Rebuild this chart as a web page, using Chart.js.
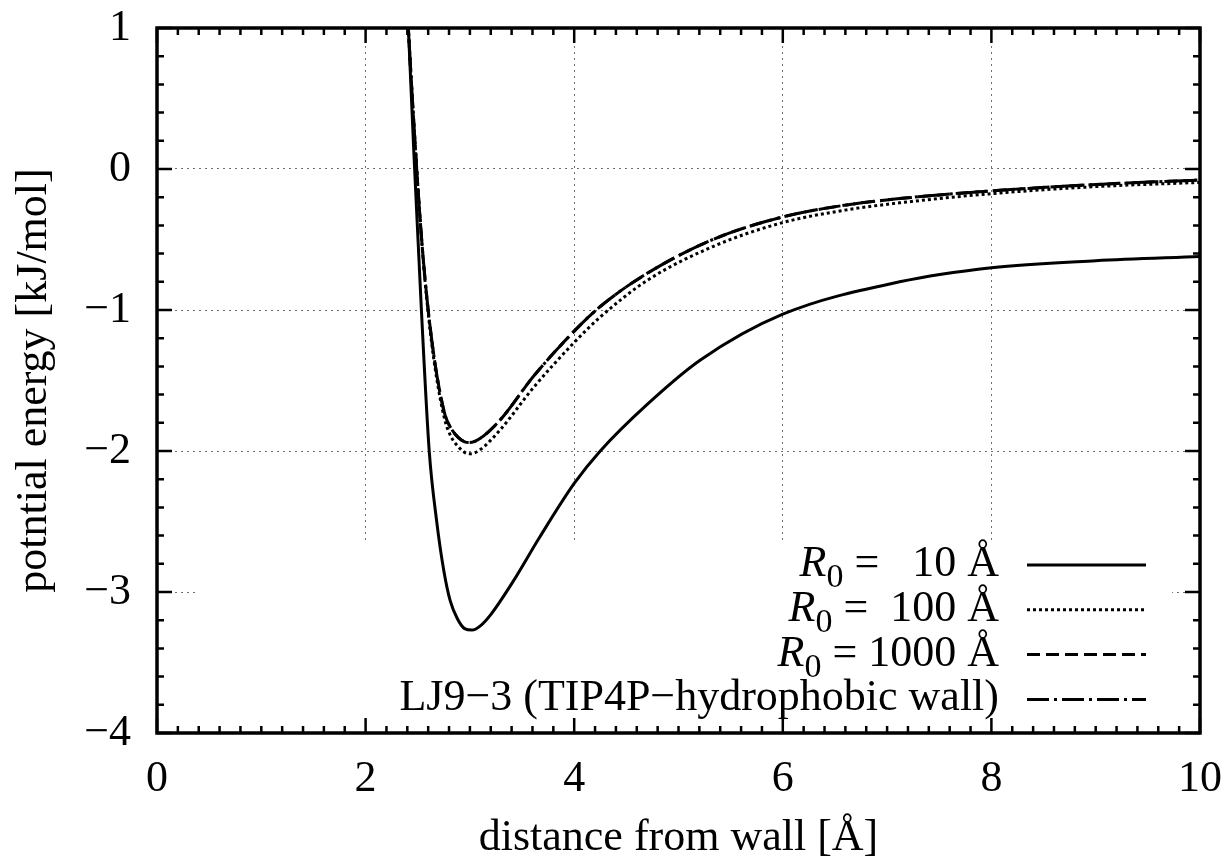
<!DOCTYPE html>
<html>
<head>
<meta charset="utf-8">
<script src="https://cdn.jsdelivr.net/npm/chart.js@4.4.0/dist/chart.umd.min.js"></script>
<style>
html,body{margin:0;padding:0;background:#fff;}
#wrap{width:1230px;height:865px;position:relative;}
</style>
</head>
<body>
<div id="wrap"><canvas id="potential"></canvas></div>
<script>
'use strict';

// values
var xTicks = [0, 2, 4, 6, 8, 10];
var yTicks = [1, 0, -1, -2, -3, -4];

var seriesNames = ['R0 =   10 Å', 'R0 =  100 Å', 'R0 = 1000 Å', 'LJ9\u22123 (TIP4P\u2212hydrophobic wall)'];

var xR10 = [2.38, 2.41, 2.47, 2.535, 2.61, 2.68, 2.75, 2.81, 2.88, 2.95, 3.02, 3.1, 3.2, 3.41, 3.67, 4.0, 4.25, 4.7, 5.21, 6.0, 7.12, 8.0, 9.0, 10.0];
var yR10 = [1.6, 1.0, 0, -1.0, -2.0, -2.49, -2.85, -3.06, -3.19, -3.26, -3.27, -3.24, -3.16, -2.93, -2.61, -2.23, -2.0, -1.67, -1.355, -1.03, -0.80, -0.70, -0.65, -0.62];

var xWall  = [2.37, 2.41, 2.49, 2.545, 2.60, 2.67, 2.76, 2.82, 2.89, 2.95, 3.0, 3.1, 3.29, 3.61, 4.0, 4.25, 4.7, 5.33, 6.0, 6.61, 7.12, 8.0, 9.0, 10.0];
var yR100  = [1.6, 1.0, 0, -0.58, -1.02, -1.43, -1.78, -1.90, -1.97, -2.01, -2.02, -1.99, -1.85, -1.55, -1.23, -1.05, -0.79, -0.55, -0.38, -0.29, -0.24, -0.175, -0.125, -0.095];
var yR1000 = [1.6, 1.0, 0, -0.57, -1.0, -1.40, -1.74, -1.84, -1.905, -1.935, -1.94, -1.91, -1.78, -1.47, -1.15, -0.975, -0.74, -0.50, -0.34, -0.255, -0.21, -0.155, -0.11, -0.078];
var yLJ93  = [1.6, 1.0, 0, -0.57, -1.0, -1.40, -1.74, -1.84, -1.905, -1.935, -1.94, -1.91, -1.78, -1.47, -1.15, -0.975, -0.74, -0.50, -0.34, -0.255, -0.21, -0.155, -0.11, -0.078];

var SERIF = "'Liberation Serif', 'Times New Roman', serif";

function pts(xs, ys){
    return xs.map(function(x, i){ return {x: x, y: ys[i]}; });
}

function curve(label, xs, ys, dash){
    return {
        label: label,
        data: pts(xs, ys),
        borderColor: '#000',
        borderWidth: 3,
        borderDash: dash,
        pointRadius: 0,
        fill: false,
        cubicInterpolationMode: 'monotone'
    };
}

// gnuplot style frame: key box, inward ticks, thick border, key
var gnuFrame = {
    id: 'gnuFrame',
    keyBox: function(a){
        return {left: a.left + 38, right: a.right - 28, top: a.bottom - 190, bottom: a.bottom - 13};
    },
    beforeDatasetsDraw: function(chart){
        var ctx = chart.ctx, k = this.keyBox(chart.chartArea);
        ctx.save();
        ctx.fillStyle = '#fff';
        ctx.fillRect(k.left, k.top, k.right - k.left, k.bottom - k.top);
        ctx.restore();
    },
    afterDatasetsDraw: function(chart){
        var ctx = chart.ctx, a = chart.chartArea;
        var sx = chart.scales.x, sy = chart.scales.y;
        var v, p, len, i;
        ctx.save();
        ctx.strokeStyle = '#000';
        ctx.setLineDash([]);
        ctx.lineWidth = 2.5;
        ctx.beginPath();
        for (i = 0; i <= 50; i++) {
            v = sx.min + i * 0.2;
            p = sx.getPixelForValue(v);
            len = (i % 10 === 0) ? 15 : 7;
            ctx.moveTo(p, a.bottom); ctx.lineTo(p, a.bottom - len);
            ctx.moveTo(p, a.top); ctx.lineTo(p, a.top + len);
        }
        for (i = 0; i <= 25; i++) {
            v = sy.min + i * 0.2;
            p = sy.getPixelForValue(v);
            len = (i % 5 === 0) ? 15 : 7;
            ctx.moveTo(a.left, p); ctx.lineTo(a.left + len, p);
            ctx.moveTo(a.right, p); ctx.lineTo(a.right - len, p);
        }
        ctx.stroke();
        ctx.lineWidth = 3.5;
        ctx.strokeRect(a.left, a.top, a.right - a.left, a.bottom - a.top);

        // key
        var textRight = a.right - 201, lineFrom = a.right - 173, lineTo = a.right - 54;
        var rowY = a.bottom - 168, rowStep = 44.8;
        ctx.fillStyle = '#000';
        ctx.textBaseline = 'alphabetic';
        ctx.textAlign = 'left';
        chart.data.datasets.forEach(function(ds, n){
            var y = rowY + n * rowStep;
            var name = ds.label, base = y + 11;
            if (name.indexOf('R0') === 0) {
                var rest = name.substring(2);
                ctx.font = 'italic 44px ' + SERIF;
                var wR = ctx.measureText('R').width;
                ctx.font = '34px ' + SERIF;
                var w0 = ctx.measureText('0').width;
                ctx.font = '44px ' + SERIF;
                var wRest = ctx.measureText(rest).width;
                var x0 = textRight - wR - w0 - wRest;
                ctx.font = 'italic 44px ' + SERIF;
                ctx.fillText('R', x0, base);
                ctx.font = '34px ' + SERIF;
                ctx.fillText('0', x0 + wR, base + 11);
                ctx.font = '44px ' + SERIF;
                ctx.fillText(rest, x0 + wR + w0, base);
            } else {
                ctx.font = '44px ' + SERIF;
                ctx.textAlign = 'right';
                ctx.fillText(name, textRight, base);
                ctx.textAlign = 'left';
            }
            ctx.lineWidth = 3;
            ctx.setLineDash(ds.borderDash || []);
            ctx.beginPath();
            ctx.moveTo(lineFrom, y);
            ctx.lineTo(lineTo, y);
            ctx.stroke();
        });
        ctx.restore();
    }
};

function minusSign(v){
    return String(v).replace('-', '\u2212');
}

var Potential = function(){

    var _draw = function(){
        var ctx = document.getElementById('potential').getContext('2d');
        var config = {
            type: 'line',
            data: {
                datasets: [
                    curve(seriesNames[0], xR10, yR10, []),
                    curve(seriesNames[1], xWall, yR100, [3, 3]),
                    curve(seriesNames[2], xWall, yR1000, [13, 6]),
                    curve(seriesNames[3], xWall, yLJ93, [22, 5, 3, 5])
                ]
            },
            options: {
                responsive: true,
                maintainAspectRatio: false,
                animation: false,
                layout: {padding: {top: 28, right: 30, left: 0, bottom: 0}},
                plugins: {legend: {display: false}, tooltip: {enabled: false}},
                scales: {
                    x: {
                        type: 'linear', min: 0, max: 10,
                        afterFit: function(s){ s.height = 132; s.paddingLeft = 0; s.paddingRight = 0; },
                        afterBuildTicks: function(s){ s.ticks = xTicks.map(function(v){ return {value: v}; }); },
                        grid: {color: '#707070', lineWidth: 1, drawTicks: false},
                        border: {display: false, dash: [2, 4]},
                        ticks: {color: '#000', padding: 20, maxRotation: 0, autoSkip: false,
                                font: {family: SERIF, size: 44}},
                        title: {display: true, text: 'distance from wall [Å]', color: '#000',
                                font: {family: SERIF, size: 44}, padding: {top: 0, bottom: 0}}
                    },
                    y: {
                        type: 'linear', min: -4, max: 1,
                        afterFit: function(s){ s.width = 157; s.paddingTop = 0; s.paddingBottom = 0; },
                        afterBuildTicks: function(s){ s.ticks = yTicks.map(function(v){ return {value: v}; }); },
                        grid: {color: '#707070', lineWidth: 1, drawTicks: false},
                        border: {display: false, dash: [2, 4]},
                        ticks: {color: '#000', padding: 26, autoSkip: false,
                                font: {family: SERIF, size: 44},
                                callback: function(v){ return minusSign(v); }},
                        title: {display: true, text: 'potntial energy [kJ/mol]', color: '#000',
                                font: {family: SERIF, size: 44}, padding: {top: 8, bottom: 0}}
                    }
                }
            },
            plugins: [gnuFrame]
        };
        window.potential = new Chart(ctx, config);
    };

    return {
        init: function(){ _draw(); }
    };
}();

document.addEventListener('DOMContentLoaded', function(){
    Potential.init();
});
</script>
</body>
</html>
